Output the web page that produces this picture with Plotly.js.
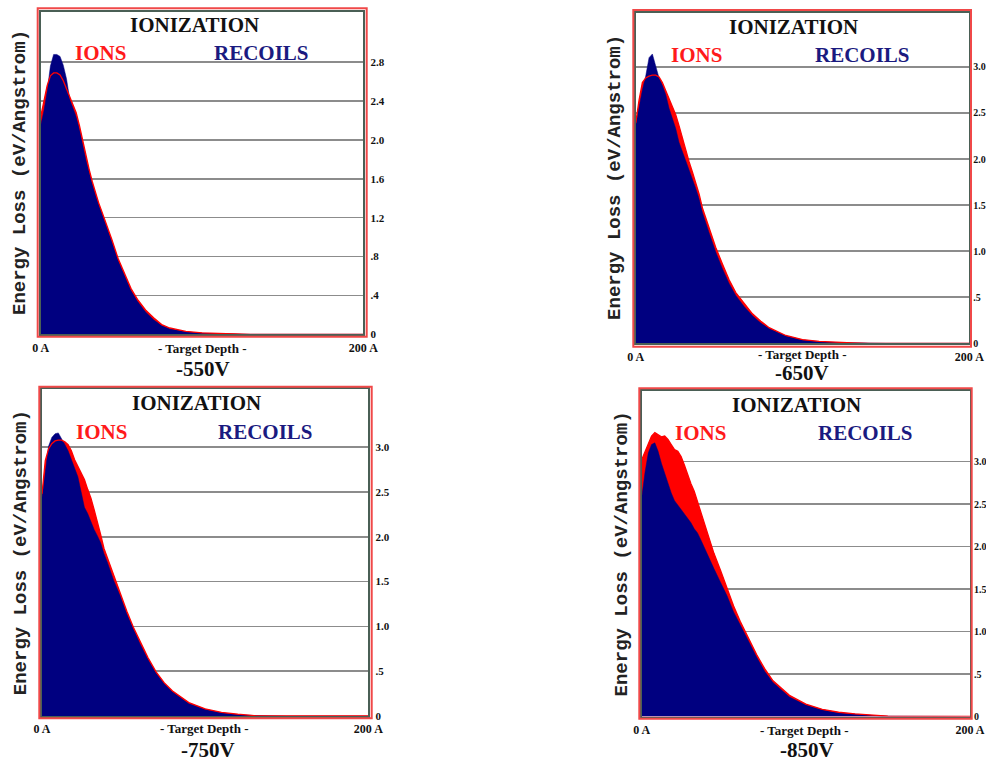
<!DOCTYPE html>
<html>
<head>
<meta charset="utf-8">
<script src="https://cdn.plot.ly/plotly-3.0.1.min.js"></script>
<style>html,body{margin:0;padding:0;background:#fff;}#chart{width:986px;height:761px;}</style>
</head>
<body>
<div id="chart"></div>
<script>
// ---- data ----
const depth = [0,2,4,6,8,10,12,14,16,18,20,22,24,26,28,30,32,34,36,38,40,44,48,52,56,60,65,70,75,80,90,100,110,120,130,140,150,200];

const ions550 = [2.24,2.42,2.56,2.66,2.69,2.69,2.67,2.61,2.53,2.45,2.37,2.28,2.15,1.99,1.84,1.70,1.57,1.45,1.35,1.26,1.17,0.98,0.78,0.62,0.47,0.36,0.25,0.17,0.10,0.065,0.03,0.015,0.008,0.003,0,0,0,0];
const recoils550 = [2.15,2.30,2.50,2.76,2.88,2.88,2.86,2.77,2.63,2.42,2.33,2.24,2.11,1.95,1.80,1.67,1.54,1.43,1.33,1.24,1.15,0.96,0.76,0.60,0.45,0.34,0.23,0.15,0.09,0.055,0.025,0.01,0.005,0,0,0,0,0];

const ions650 = [2.39,2.64,2.83,2.88,2.90,2.91,2.91,2.89,2.83,2.74,2.64,2.57,2.48,2.36,2.22,2.08,1.97,1.86,1.74,1.62,1.47,1.25,1.04,0.86,0.69,0.55,0.43,0.32,0.24,0.17,0.085,0.04,0.02,0.01,0.004,0,0,0];
const recoils650 = [2.37,2.57,2.75,2.90,3.10,3.14,3.00,2.88,2.80,2.70,2.55,2.45,2.33,2.18,2.07,1.98,1.88,1.79,1.68,1.57,1.42,1.20,0.99,0.81,0.65,0.52,0.40,0.30,0.22,0.16,0.08,0.037,0.018,0.008,0.003,0,0,0];

const ions750 = [2.48,2.85,2.98,3.04,3.07,3.08,3.08,3.06,3.03,2.96,2.86,2.79,2.72,2.64,2.53,2.43,2.30,2.17,2.02,1.87,1.77,1.56,1.37,1.17,0.99,0.83,0.65,0.49,0.37,0.28,0.15,0.08,0.04,0.02,0.005,0,0,0];
const recoils750 = [2.44,2.70,3.01,3.11,3.15,3.16,3.10,3.03,2.96,2.87,2.78,2.67,2.50,2.33,2.26,2.16,2.08,2.01,1.93,1.81,1.72,1.51,1.34,1.14,0.97,0.81,0.63,0.48,0.36,0.27,0.14,0.075,0.035,0.015,0.005,0,0,0];

const ions850 = [3.02,3.12,3.22,3.30,3.34,3.31,3.29,3.30,3.26,3.20,3.14,3.12,3.06,2.96,2.84,2.74,2.65,2.53,2.41,2.28,2.15,1.92,1.72,1.51,1.30,1.12,0.93,0.73,0.56,0.42,0.25,0.145,0.085,0.05,0.03,0.015,0.005,0];
const recoils850 = [2.57,2.87,3.10,3.20,3.22,3.12,2.98,2.86,2.74,2.63,2.54,2.49,2.43,2.38,2.34,2.28,2.21,2.16,2.08,1.99,1.91,1.74,1.58,1.42,1.23,1.07,0.89,0.70,0.53,0.40,0.23,0.135,0.08,0.045,0.025,0.012,0.004,0];

const yTicks550 = [0,0.4,0.8,1.2,1.6,2.0,2.4,2.8];
const yLabels550 = ['0','.4','.8','1.2','1.6','2.0','2.4','2.8'];
const yTicksHigh = [0,0.5,1.0,1.5,2.0,2.5,3.0];
const yLabelsHigh = ['0','.5','1.0','1.5','2.0','2.5','3.0'];
const xTicks = [0,200];
const xLabels = ['0 A','200 A'];
const voltages = ['-550V','-650V','-750V','-850V'];

// ---- layout geometry (pixels) ----
const W = 986, H = 761;
const px = x => x / W;
const py = y => 1 - y / H;
const SERIF = 'Liberation Serif, Times New Roman, serif';

const panels = [
  {ions: ions550, rec: recoils550, tv: yTicks550, tt: yLabels550, top: 3.32, tsize: 11, tstand: 3,
   box: [40.7, 11.7, 363.3, 334.3], frame: [37.7, 8.3, 366.7, 336.7],
   title: [194, 25.5], ions_t: [100, 53.3], rec_t: [261.7, 53.3], ytl: 20, depth_t: [201.7, 348], volt: [202.5, 369]},
  {ions: ions650, rec: recoils650, tv: yTicksHigh, tt: yLabelsHigh, top: 3.59, tsize: 10, tstand: 0,
   box: [635.7, 12.5, 969.3, 343.3], frame: [633.3, 10, 971, 346.7],
   title: [793, 26.7], ions_t: [696.7, 55], rec_t: [862.5, 55], ytl: 615, depth_t: [801.7, 355], volt: [801.7, 373]},
  {ions: ions750, rec: recoils750, tv: yTicksHigh, tt: yLabelsHigh, top: 3.65, tsize: 11, tstand: 3,
   box: [42, 389, 368.3, 716], frame: [39.3, 386.7, 371.7, 718.3],
   title: [196.7, 403.3], ions_t: [101.7, 432], rec_t: [265, 432], ytl: 20.7, depth_t: [204, 728.3], volt: [208, 750]},
  {ions: ions850, rec: recoils850, tv: yTicksHigh, tt: yLabelsHigh, top: 3.83, tsize: 10, tstand: 0,
   box: [641.7, 391, 970, 716.5], frame: [639.3, 388.3, 971.7, 718.8],
   title: [796.7, 405], ions_t: [700.8, 433], rec_t: [865, 433], ytl: 621.7, depth_t: [804, 730], volt: [806.7, 750]}
];

const traces = [];
const layout = {
  width: W, height: H,
  margin: {l: 0, r: 0, t: 0, b: 0},
  paper_bgcolor: '#ffffff',
  plot_bgcolor: '#ffffff',
  showlegend: false,
  shapes: [],
  annotations: []
};

panels.forEach((p, i) => {
  const n = i === 0 ? '' : String(i + 1);
  const xa = 'x' + n, ya = 'y' + n;
  traces.push({x: depth, y: p.ions, xaxis: xa, yaxis: ya, type: 'scatter', mode: 'lines',
               fill: 'tozeroy', fillcolor: '#ff0000', line: {width: 0, color: '#ff0000'}, hoverinfo: 'skip'});
  traces.push({x: depth, y: p.rec, xaxis: xa, yaxis: ya, type: 'scatter', mode: 'lines',
               fill: 'tozeroy', fillcolor: '#000080', line: {width: 0.5, color: '#000080'}, hoverinfo: 'skip'});
  traces.push({x: depth, y: p.ions, xaxis: xa, yaxis: ya, type: 'scatter', mode: 'lines',
               line: {width: 1.3, color: '#ff0000'}, hoverinfo: 'skip'});

  layout['xaxis' + n] = {
    domain: [px(p.box[0]), px(p.box[2])], anchor: ya, range: [0, 200],
    tickvals: xTicks, ticktext: xLabels, ticks: '', showgrid: false, zeroline: false,
    showline: true, mirror: true, linecolor: '#4a5f55', linewidth: 2,
    tickfont: {family: SERIF, size: 12, color: '#111', weight: 'bold'},
    ticklabelstandoff: 1, fixedrange: true
  };
  layout['yaxis' + n] = {
    domain: [py(p.box[3]), py(p.box[1])], anchor: xa, range: [0, p.top], side: 'right',
    tickvals: p.tv, ticktext: p.tt, ticks: '', showgrid: true, gridcolor: '#8c8c8c', gridwidth: 1.5,
    zeroline: false, showline: true, mirror: true, linecolor: '#4a5f55', linewidth: 2,
    tickfont: {family: SERIF, size: p.tsize, color: '#111', weight: 'bold'},
    ticklabelstandoff: p.tstand, fixedrange: true
  };

  layout.shapes.push({type: 'rect', xref: 'paper', yref: 'paper',
    x0: px(p.frame[0]), x1: px(p.frame[2]), y0: py(p.frame[3]), y1: py(p.frame[1]),
    line: {color: '#f04848', width: 2}, fillcolor: 'rgba(0,0,0,0)', layer: 'above'});

  const ann = (text, pos, size, color, extra) => Object.assign({
    text: text, xref: 'paper', yref: 'paper', x: px(pos[0]), y: py(pos[1]),
    xanchor: 'center', yanchor: 'middle', showarrow: false,
    font: {family: SERIF, size: size, color: color, weight: 'bold'}
  }, extra || {});

  layout.annotations.push(ann('IONIZATION', p.title, 21, '#111111'));
  layout.annotations.push(ann('IONS', p.ions_t, 21, '#ff1a1a'));
  layout.annotations.push(ann('RECOILS', p.rec_t, 21, '#1a1a80'));
  layout.annotations.push(ann('- Target Depth -', p.depth_t, 13, '#111111'));
  layout.annotations.push(ann(voltages[i], p.volt, 21, '#111111'));
  layout.annotations.push(ann('Energy Loss (eV/Angstrom)', [p.ytl, (p.box[1] + p.box[3]) / 2], 19, '#222222',
    {textangle: -90, font: {family: 'Liberation Mono, Courier New, monospace', size: 19, color: '#222222', weight: 'bold'}}));
});

Plotly.newPlot('chart', traces, layout, {staticPlot: true, displayModeBar: false});
</script>
</body>
</html>
